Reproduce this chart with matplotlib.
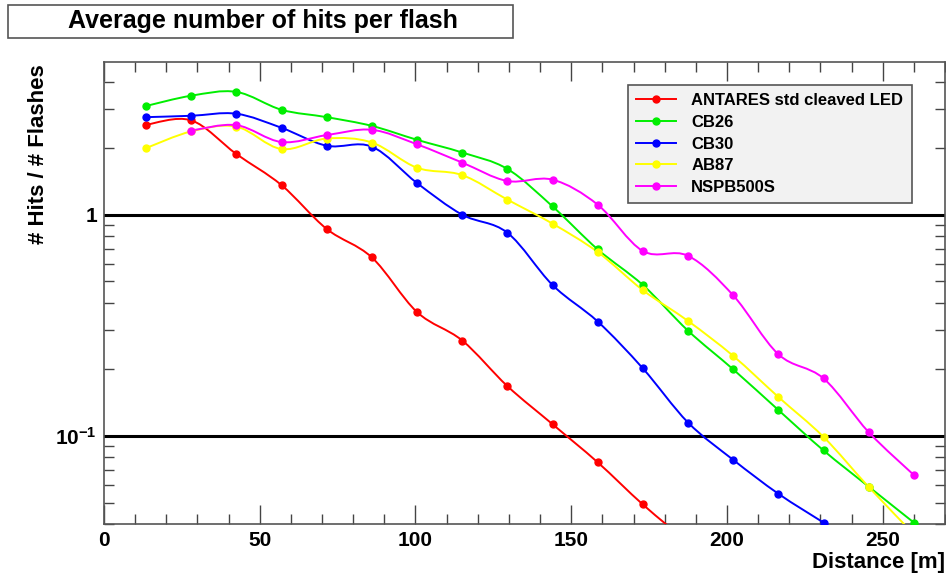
import numpy as np
import matplotlib
matplotlib.use("Agg")
import matplotlib.pyplot as plt
from matplotlib.path import Path
from matplotlib.patches import PathPatch, Rectangle
from matplotlib.lines import Line2D
from matplotlib.ticker import FixedLocator, NullFormatter, LogLocator

plt.rcParams['font.family'] = ['Liberation Sans', 'DejaVu Sans']
plt.rcParams['font.weight'] = 'bold'
plt.rcParams['mathtext.fontset'] = 'custom'
plt.rcParams['mathtext.bf'] = 'Liberation Sans:bold'
plt.rcParams['mathtext.rm'] = 'Liberation Sans:bold'

# distances of the measurement points [m]
distance = [13.5, 28, 42.5, 57, 71.5, 86, 100.5, 115, 129.5, 144,
            158.5, 173, 187.5, 202, 216.5, 231, 245.5, 260]

antares = [2.55, 2.67, 1.88, 1.36, 0.862, 0.641, 0.363, 0.270, 0.168, 0.113,
           0.076, 0.049, 0.033]
cb26 = [3.10, 3.45, 3.59, 2.98, 2.76, 2.52, 2.18, 1.91, 1.61, 1.09,
        0.697, 0.481, 0.299, 0.200, 0.131, 0.086, 0.059, 0.0406]
cb30 = [2.76, 2.80, 2.86, 2.47, 2.05, 2.03, 1.39, 1.00, 0.829, 0.481,
        0.329, 0.202, 0.115, 0.078, 0.0548, 0.0406]
ab87 = [2.00, 2.38, 2.50, 1.98, 2.21, 2.12, 1.63, 1.51, 1.17, 0.911,
        0.678, 0.456, 0.331, 0.230, 0.150, 0.099, 0.0588, 0.036]
nspb = [None, 2.40, 2.54, 2.13, 2.29, 2.42, 2.08, 1.72, 1.42, 1.44,
        1.11, 0.685, 0.652, 0.432, 0.234, 0.182, 0.104, 0.0666]

series = [
    ("ANTARES std cleaved LED", antares, "#ff0000"),
    ("CB26", cb26, "#00ee00"),
    ("CB30", cb30, "#0000ff"),
    ("AB87", ab87, "#ffff00"),
    ("NSPB500S", nspb, "#ff00ff"),
]


def smoothPath(xs, ys):
    # catmull-rom through the points, done in log space like ROOT's "C" option
    px = np.array(xs, dtype=float)
    py = np.log10(np.array(ys, dtype=float))
    n = len(px)
    verts = [(px[0], py[0])]
    codes = [Path.MOVETO]
    for i in range(n - 1):
        i0 = max(i - 1, 0)
        i3 = min(i + 2, n - 1)
        c1 = (px[i] + (px[i + 1] - px[i0]) / 6, py[i] + (py[i + 1] - py[i0]) / 6)
        c2 = (px[i + 1] - (px[i3] - px[i]) / 6, py[i + 1] - (py[i3] - py[i]) / 6)
        verts += [c1, c2, (px[i + 1], py[i + 1])]
        codes += [Path.CURVE4] * 3
    verts = [(v[0], 10 ** v[1]) for v in verts]
    return Path(verts, codes)


fig = plt.figure(figsize=(9.46, 5.75), dpi=100)
ax = fig.add_axes([104 / 946, 1 - 524 / 575, (945 - 104) / 946, (524 - 62) / 575])
ax.set_yscale('log')
ax.set_xlim(0, 270)
ax.set_ylim(0.04, 4.9)

ax.axhline(1, color='black', lw=2.2, zorder=1)
ax.axhline(0.1, color='black', lw=2.2, zorder=1)

handles = []
for name, vals, col in series:
    xs = [d for d, v in zip(distance, vals) if v is not None]
    ys = [v for v in vals if v is not None]
    ax.add_patch(PathPatch(smoothPath(xs, ys), fill=False, edgecolor=col, lw=1.4, zorder=3))
    ax.plot(xs, ys, 'o', color=col, ms=5, ls='none', zorder=4)
    handles.append(Line2D([], [], color=col, lw=1.4, marker='o', ms=5))

leg = ax.legend(handles, [s[0] for s in series], loc='upper left',
                bbox_to_anchor=(628 / 946, 1 - 85 / 575),
                bbox_transform=fig.transFigure, borderaxespad=0, fontsize=12,
                frameon=True, fancybox=False, edgecolor='#555555',
                facecolor='#f2f2f2', framealpha=1, handlelength=2.4,
                labelspacing=0.4, borderpad=0.5, handletextpad=0.9)
leg.get_frame().set_linewidth(1.2)
leg.set_zorder(5)

# ticks ROOT style
ax.xaxis.set_major_locator(FixedLocator([0, 50, 100, 150, 200, 250]))
ax.xaxis.set_minor_locator(FixedLocator(np.arange(0, 271, 10)))
ax.yaxis.set_major_locator(FixedLocator([0.1, 1]))
ax.yaxis.set_minor_locator(LogLocator(base=10, subs=np.arange(2, 10)))
ax.yaxis.set_minor_formatter(NullFormatter())
ax.set_yticklabels([r'$\mathbf{10^{-1}}$', '1'])
ax.tick_params(which='both', direction='in', top=True, right=True, color='#444444')
ax.tick_params(which='major', length=14, width=1, labelsize=15, pad=5)
ax.tick_params(which='minor', length=7, width=1)
ax.tick_params(axis='y', which='major', length=0)
for lbl in ax.get_xticklabels() + ax.get_yticklabels():
    lbl.set_fontweight('bold')

for sp in ax.spines.values():
    sp.set_color('#555555')
    sp.set_linewidth(1.2)

fig.text(945 / 946, 2 / 575, 'Distance [m]', ha='right', va='bottom',
         fontsize=16, fontweight='bold')
fig.text(39 / 946, 1 - 154 / 575, '# Hits / # Flashes', rotation=90, ha='center',
         va='center', fontsize=16, fontweight='bold')

# title box
fig.patches.append(Rectangle((8 / 946, 1 - 38 / 575), (513 - 8) / 946, 33 / 575,
                             transform=fig.transFigure, fill=False,
                             edgecolor='#555555', lw=1.2))
fig.text(263 / 946, 1 - 21 / 575, 'Average number of hits per flash', ha='center',
         va='center', fontsize=18, fontweight='bold')

fig.savefig('out.png', dpi=100)
